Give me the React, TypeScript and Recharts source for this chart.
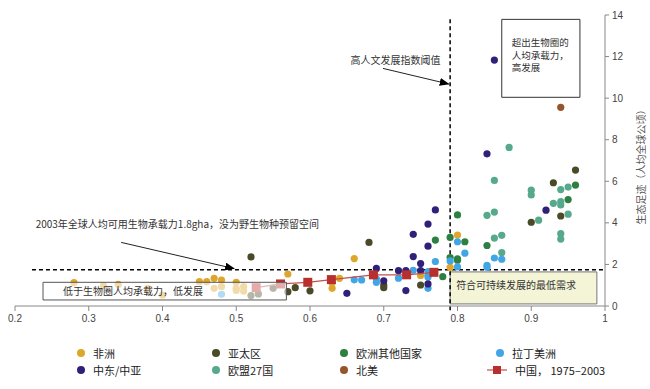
import { ScatterChart, Scatter, XAxis, YAxis, ReferenceLine, ReferenceArea, ReferenceDot } from 'recharts';

type Pt = [number, number];

// HDI (x) vs ecological footprint per capita (y)
const africa: Pt[] = [
  [0.28, 1.12], [0.32, 0.98], [0.34, 1.04], [0.38, 0.85], [0.4, 0.53], [0.45, 1.17], [0.46, 1.17],
  [0.47, 1.33], [0.48, 1.25], [0.47, 0.85], [0.48, 0.93], [0.5, 1.14], [0.5, 0.85], [0.5, 0.75],
  [0.51, 0.93], [0.51, 0.72], [0.57, 1.54], [0.63, 1.12], [0.63, 0.85], [0.64, 1.33], [0.66, 2.28],
  [0.75, 1.47], [0.79, 1.86], [0.8, 3.41],
];
const asiaPacific: Pt[] = [
  [0.52, 2.36], [0.52, 0.5], [0.53, 0.58], [0.55, 0.85], [0.57, 0.69], [0.58, 0.88], [0.6, 0.73],
  [0.68, 3.06], [0.7, 1.01], [0.7, 0.88], [0.75, 1.01], [0.9, 4.03], [0.93, 5.93], [0.94, 4.33],
  [0.96, 6.54],
];
const otherEurope: Pt[] = [
  [0.77, 3.17], [0.79, 3.3], [0.8, 4.38], [0.81, 3.09], [0.79, 2.33], [0.8, 2.27], [0.8, 2.2],
  [0.78, 1.41], [0.84, 2.91], [0.95, 5.12], [0.96, 5.82],
];
const latinAmerica: Pt[] = [
  [0.48, 0.56], [0.66, 1.26], [0.67, 1.25], [0.69, 1.31], [0.69, 1.14], [0.72, 1.34], [0.74, 1.72],
  [0.76, 1.66], [0.76, 1.47], [0.76, 1.4], [0.76, 0.85], [0.77, 2.14], [0.79, 2.17], [0.8, 3.09],
  [0.8, 1.88], [0.81, 2.54], [0.84, 1.96], [0.84, 1.87], [0.85, 2.31], [0.86, 2.25],
];
const middleEast: Pt[] = [
  [0.65, 0.61], [0.69, 1.81], [0.7, 1.21], [0.72, 1.7], [0.73, 1.7], [0.73, 0.74], [0.75, 1.7],
  [0.75, 2.04], [0.74, 2.38], [0.74, 3.45], [0.76, 2.88], [0.76, 3.94], [0.77, 4.62], [0.76, 1.06],
  [0.84, 7.32], [0.85, 11.83], [0.92, 4.61],
];
const eu27: Pt[] = [
  [0.84, 4.36], [0.85, 4.52], [0.85, 3.27], [0.86, 3.4], [0.86, 2.57], [0.85, 6.04], [0.87, 7.63],
  [0.9, 5.57], [0.9, 5.34], [0.91, 4.13], [0.93, 4.94], [0.94, 5.02], [0.94, 4.86], [0.94, 5.6],
  [0.95, 5.72], [0.95, 4.42], [0.94, 3.48], [0.94, 3.22],
];
const northAmerica: Pt[] = [[0.94, 9.56]];
// China, 1975, 1980, 1985, 1990, 1995, 2000, 2003
const china: Pt[] = [
  [0.527, 0.88], [0.56, 1.06], [0.597, 1.14], [0.629, 1.27], [0.686, 1.5], [0.731, 1.5], [0.768, 1.62],
];

const xTicks = [0.2, 0.3, 0.4, 0.5, 0.6, 0.7, 0.8, 0.9, 1];
const yTicks = [0, 2, 4, 6, 8, 10, 12, 14];
const biocapacity = 1.75;
const hdiThreshold = 0.79;

const series = [
  { name: '非洲', color: '#dea62b', data: africa, col: 0, row: 0 },
  { name: '亚太区', color: '#4a4a29', data: asiaPacific, col: 1, row: 0 },
  { name: '欧洲其他国家', color: '#2e7f42', data: otherEurope, col: 2, row: 0 },
  { name: '拉丁美洲', color: '#42a6e6', data: latinAmerica, col: 3, row: 0 },
  { name: '中东/中亚', color: '#31207a', data: middleEast, col: 0, row: 1 },
  { name: '欧盟27国', color: '#56a98a', data: eu27, col: 1, row: 1 },
  { name: '北美', color: '#95552c', data: northAmerica, col: 2, row: 1 },
];
const chinaName = '中国， 1975–2003';

const toPts = (d: Pt[]) => d.map(([x, y]) => ({ x, y }));

const CJK = "'Noto Sans CJK SC', sans-serif";
const LAT = "'Liberation Sans', Arial, sans-serif";

const dot = (color: string) => (p: any) => <circle cx={p.cx} cy={p.cy} r={3.6} fill={color} />;
const square = (p: any) => <rect x={p.cx - 4.5} y={p.cy - 4.5} width={9} height={9} fill="#b8302d" />;

function BoxText({ viewBox, lines, dx = 8, dy = 12, lh = 12.5, size = 10 }: any) {
  if (!viewBox) return null;
  return (
    <text x={viewBox.x + dx} y={viewBox.y + dy} fontSize={size} fontFamily={CJK} fill="#333">
      {lines.map((l: string, i: number) => (
        <tspan key={i} x={viewBox.x + dx} dy={i === 0 ? 0 : lh}>{l}</tspan>
      ))}
    </text>
  );
}

function Note({ viewBox, text, anchor = 'start' }: any) {
  if (!viewBox) return null;
  const cx = viewBox.x + (viewBox.width || 0) / 2;
  const cy = viewBox.y + (viewBox.height || 0) / 2;
  return (
    <text x={cx} y={cy} dy={3.5} textAnchor={anchor} fontSize={10} fontFamily={CJK} fill="#333">{text}</text>
  );
}

function YLabel({ viewBox }: any) {
  if (!viewBox) return null;
  const x = viewBox.x + 35;
  const y = viewBox.y + viewBox.height / 2 + 4;
  return (
    <text x={x} y={y} transform={`rotate(-90, ${x}, ${y})`} textAnchor="middle" dominantBaseline="central"
      fontSize={10} fontFamily={CJK} fill="#555">
      生态足迹（人均全球公顷）
    </text>
  );
}

const colLeft = [81, 216, 344, 500];
const rowTop = [353, 370];

export default function App() {
  return (
    <div style={{ position: 'absolute', left: 0, top: 0, width: 650, height: 389, background: '#fff' }}>
      <ScatterChart width={650} height={340} margin={{ top: 15, right: 0, left: 15, bottom: 0 }}>
        <defs>
          <marker id="arrowHead" markerWidth="10" markerHeight="8" refX="9" refY="4" orient="auto" markerUnits="userSpaceOnUse">
            <path d="M0,0 L10,4 L0,8 z" fill="#000" />
          </marker>
        </defs>
        <XAxis
          type="number"
          dataKey="x"
          domain={[0.2, 1]}
          ticks={xTicks}
          interval={0}
          height={34}
          tickSize={5}
          tickMargin={4}
          stroke="#888"
          tick={{ fill: '#444', fontSize: 10, fontFamily: LAT }}
        />
        <YAxis
          type="number"
          dataKey="y"
          orientation="right"
          domain={[0, 14]}
          ticks={yTicks}
          interval={0}
          width={45}
          tickSize={4}
          tickMargin={3}
          stroke="#888"
          tick={{ fill: '#444', fontSize: 10, fontFamily: LAT, textAnchor: 'start' }}
          label={<YLabel />}
        />

        <ReferenceArea
          x1={0.79} x2={0.989} y1={0.1} y2={1.64}
          fill="#f4f4d6" fillOpacity={1} stroke="#777" strokeWidth={1}
          label={<BoxText lines={['符合可持续发展的最低需求']} dx={6} dy={17} />}
        />
        <ReferenceArea
          x1={0.86} x2={0.966} y1={10.04} y2={13.79}
          fill="#fff" fillOpacity={0} stroke="#333" strokeWidth={1}
          label={<BoxText lines={['超出生物圈的', '人均承载力，', '高发展']} dx={10} dy={27} size={9.5} />}
        />

        {series.map(s => (
          <Scatter key={s.name} name={s.name} data={toPts(s.data)} shape={dot(s.color)} isAnimationActive={false} />
        ))}
        <Scatter
          name={chinaName}
          data={toPts(china)}
          line={{ stroke: '#c0504d', strokeWidth: 1.2 }}
          lineType="joint"
          shape={square}
          isAnimationActive={false}
        />

        {/* low-development box sits over the points and washes them out */}
        <ReferenceArea
          x1={0.238} x2={0.568} y1={0.29} y2={1.14}
          fill="#fff" fillOpacity={0.6} stroke="#555" strokeWidth={1}
          zIndex={900}
          label={<BoxText lines={['低于生物圈人均承载力，低发展']} dx={20} dy={12.5} />}
        />

        <ReferenceLine
          segment={[{ x: 0.223, y: biocapacity }, { x: 1, y: biocapacity }]}
          stroke="#000" strokeWidth={1.5} strokeDasharray="4 3"
        />
        <ReferenceLine
          segment={[{ x: hdiThreshold, y: 13.8 }, { x: hdiThreshold, y: -0.3 }]}
          ifOverflow="visible"
          stroke="#000" strokeWidth={1.5} strokeDasharray="4 3"
        />
        <ReferenceLine
          segment={[{ x: 0.699, y: 11.43 }, { x: 0.788, y: 10.68 }]}
          stroke="#222" strokeWidth={1} markerEnd="url(#arrowHead)"
        />
        <ReferenceLine
          segment={[{ x: 0.344, y: 3.06 }, { x: 0.497, y: 1.8 }]}
          stroke="#222" strokeWidth={1} markerEnd="url(#arrowHead)"
        />

        <ReferenceDot x={0.716} y={11.8} r={0} fill="none" stroke="none"
          label={<Note text="高人文发展指数阈值" anchor="middle" />} />
        <ReferenceDot x={0.228} y={3.9} r={0} fill="none" stroke="none"
          label={<Note text="2003年全球人均可用生物承载力1.8gha，没为野生物种预留空间" anchor="start" />} />
      </ScatterChart>

      {series.map(s => (
        <div key={s.name} style={{ position: 'absolute', left: colLeft[s.col] - 4, top: rowTop[s.row] - 8, height: 16, display: 'flex', alignItems: 'center', fontFamily: CJK, fontSize: 11, color: '#222', whiteSpace: 'nowrap' }}>
          <span style={{ width: 8, height: 8, borderRadius: 4, background: s.color, display: 'inline-block', marginRight: 8 }} />
          {s.name}
        </div>
      ))}
      <div style={{ position: 'absolute', left: colLeft[3] - 13, top: rowTop[1] - 8, height: 16, display: 'flex', alignItems: 'center', fontFamily: CJK, fontSize: 11, color: '#222', whiteSpace: 'nowrap' }}>
        <svg width={20} height={10} style={{ marginRight: 8 }}>
          <line x1={0} y1={5} x2={20} y2={5} stroke="#c0504d" strokeWidth={1.2} />
          <rect x={6} y={1} width={8} height={8} fill="#b8302d" />
        </svg>
        {chinaName}
      </div>
    </div>
  );
}
